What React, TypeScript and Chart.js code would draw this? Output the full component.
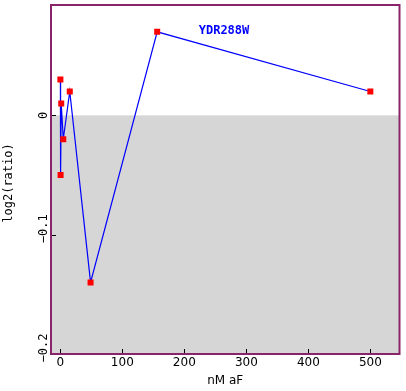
import React, { useEffect, useRef } from "react";
import { Chart, registerables } from "chart.js";

Chart.register(...registerables);

const xValues = [0.15, 0.47, 1.49, 4.77, 15.26, 48.8, 156.25, 500];
const yValues = [0.03, -0.05, 0.01, -0.02, 0.02, -0.14, 0.07, 0.02];
const xTicks = [0, 100, 200, 300, 400, 500];
const yTicks = [0, -0.1, -0.2];
const yTickLabels = ["0", "−0.1", "−0.2"];
const title = "YDR288W";
const xTitle = "nM aF";
const yTitle = "log2(ratio)";

const BORDER = "#8a2468";
const GRAY = "#d6d6d6";

const framePlugin = {
  id: "framePlugin",
  beforeDatasetsDraw(chart: any) {
    const { ctx, chartArea: a, scales } = chart;
    const y0 = scales.y.getPixelForValue(0);
    ctx.save();
    ctx.fillStyle = GRAY;
    ctx.fillRect(a.left, y0, a.right - a.left, a.bottom - y0);
    ctx.strokeStyle = "#000";
    ctx.lineWidth = 1;
    ctx.beginPath();
    xTicks.forEach((v) => {
      const px = Math.round(scales.x.getPixelForValue(v)) + 0.5;
      ctx.moveTo(px, a.bottom);
      ctx.lineTo(px, a.bottom - 5);
    });
    yTicks.forEach((v) => {
      const py = Math.round(scales.y.getPixelForValue(v)) + 0.5;
      ctx.moveTo(a.left, py);
      ctx.lineTo(a.left + 5, py);
    });
    ctx.stroke();
    ctx.restore();
  },
  afterDatasetsDraw(chart: any) {
    const { ctx, chartArea: a, scales } = chart;
    ctx.save();
    ctx.strokeStyle = BORDER;
    ctx.lineWidth = 2;
    ctx.strokeRect(a.left, a.top, a.right - a.left, a.bottom - a.top);
    ctx.fillStyle = "#000";
    ctx.font = "12px 'DejaVu Sans'";
    ctx.textAlign = "center";
    ctx.textBaseline = "top";
    xTicks.forEach((v) => {
      ctx.fillText(String(v), scales.x.getPixelForValue(v), a.bottom + 3);
    });
    ctx.textBaseline = "middle";
    ctx.fillText(xTitle, (a.left + a.right) / 2, 381);
    ctx.font = "12px 'DejaVu Sans Mono'";
    yTicks.forEach((v, i) => {
      const lbl = yTickLabels[i];
      const py = scales.y.getPixelForValue(v) - (lbl.length - 1) * 2;
      ctx.save();
      ctx.translate(44, py);
      ctx.rotate(-Math.PI / 2);
      ctx.textAlign = "center";
      ctx.textBaseline = "middle";
      ctx.fillText(lbl, 0, 0);
      ctx.restore();
    });
    ctx.save();
    ctx.translate(9, 183);
    ctx.rotate(-Math.PI / 2);
    ctx.textAlign = "center";
    ctx.textBaseline = "middle";
    ctx.fillText(yTitle, 0, 0);
    ctx.restore();
    ctx.fillStyle = "#0000ff";
    ctx.font = "bold 12px 'DejaVu Sans Mono'";
    ctx.textAlign = "center";
    ctx.textBaseline = "middle";
    ctx.fillText(title, 224, 31);
    ctx.restore();
  },
};

export default function App() {
  const ref = useRef<HTMLCanvasElement | null>(null);
  useEffect(() => {
    document.body.style.margin = "0";
    const canvas = ref.current;
    if (!canvas) return;
    const chart = new Chart(canvas, {
      type: "line",
      data: {
        datasets: [
          {
            data: xValues.map((x, i) => ({ x, y: yValues[i] })),
            borderColor: "#0000ff",
            borderWidth: 1.2,
            backgroundColor: "#ff0000",
            pointBackgroundColor: "#ff0000",
            pointBorderWidth: 0,
            pointStyle: "rect",
            pointRadius: 4.25,
            tension: 0,
            fill: false,
          },
        ],
      },
      options: {
        responsive: false,
        animation: false,
        events: [],
        layout: { padding: { left: 51, right: 6.5, top: 5, bottom: 37 } },
        plugins: { legend: { display: false }, tooltip: { enabled: false } },
        scales: {
          x: { type: "linear", min: -15, max: 547, display: false },
          y: { type: "linear", min: -0.2, max: 0.0925, display: false },
        },
      },
      plugins: [framePlugin],
    });
    return () => chart.destroy();
  }, []);
  return (
    <div style={{ width: 406, height: 391 }}>
      <canvas ref={ref} width={406} height={391} style={{ display: "block" }} />
    </div>
  );
}
